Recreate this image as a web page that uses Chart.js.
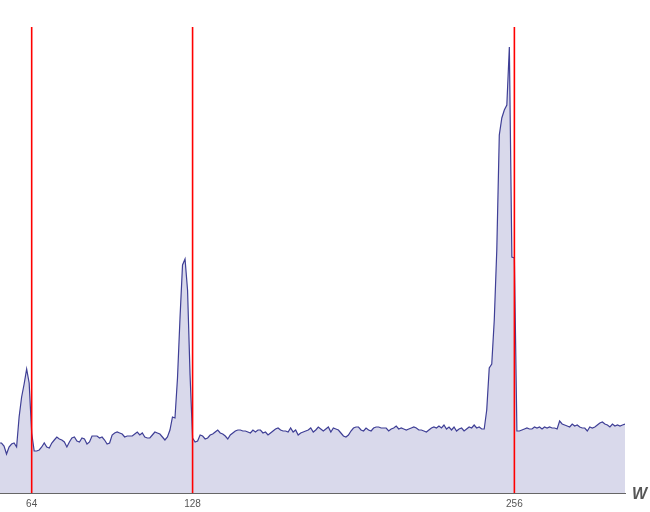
<!DOCTYPE html>
<html>
<head>
<meta charset="utf-8">
<script src="https://cdn.jsdelivr.net/npm/chart.js@4/dist/chart.umd.min.js"></script>
<style>
  html, body { margin: 0; padding: 0; background: #ffffff; }
  #wrap { width: 650px; height: 512px; position: relative; }
</style>
</head>
<body>
<div id="wrap"><canvas id="c" width="650" height="512"></canvas></div>
<script>
// W values (x) start and the measured series heights (one per integer W)
const wStart = 51;
const seriesValues = [
  50,50,47,39,46,49,50,46,76,96,
  109,124,110,60,42,42,43,46,50,46,
  45,50,53,56,54,53,51,46,51,55,
  56,52,51,55,54,49,51,57,57,57,
  55,56,53,49,50,58,60,61,60,59,
  56,57,57,57,59,61,58,60,56,55,
  55,58,61,60,59,56,53,56,63,76,
  75,115,175,228,234,203,118,55,51,52,
  58,57,54,55,58,59,61,63,60,59,
  57,54,58,60,62,63,63,62,62,61,
  60,63,61,63,63,60,61,58,60,62,
  64,65,63,62,62,61,65,61,63,58,
  60,61,62,63,65,61,63,66,64,62,
  64,66,61,65,64,63,60,57,56,58,
  62,65,66,66,63,62,65,63,62,65,
  66,66,65,65,65,62,64,65,67,64,
  65,64,63,64,65,66,65,63,63,62,
  61,63,65,66,65,67,65,68,64,66,
  63,66,62,64,65,62,64,66,65,68,
  65,66,64,64,83,125,129,173,243,358,
  375,383,388,446,236,235,62,62,63,64,
  65,64,64,66,65,66,64,66,65,66,
  65,65,64,72,69,68,67,66,69,67,
  68,66,65,65,62,66,65,66,68,70,
  71,69,68,66,69,67,68,67,68,69
];
const markerLines = [64, 128, 256];   // red vertical reference lines
const tickValues = [64, 128, 256];    // x-axis tick labels
const xMin = 51.4, xMax = 300;
const yMax = 466;
const axisTitle = 'W';

const areaData = seriesValues.map((v, i) => ({ x: wStart + i, y: v }));

const datasets = [{
  data: areaData,
  borderColor: '#3f3f96',
  backgroundColor: '#d9d9eb',
  borderWidth: 1.2,
  pointRadius: 0,
  tension: 0,
  fill: 'origin',
  order: 2
}];
markerLines.forEach(m => {
  datasets.push({
    data: [{ x: m, y: 0 }, { x: m, y: yMax }],
    borderColor: '#ff0000',
    borderWidth: 1.6,
    pointRadius: 0,
    fill: false,
    order: 1
  });
});

const titlePlugin = {
  id: 'wTitle',
  afterDraw(chart) {
    const ctx = chart.ctx;
    const xs = chart.scales.x;
    ctx.save();
    ctx.font = 'italic bold 16px "Liberation Sans", Arial, sans-serif';
    ctx.fillStyle = '#555555';
    ctx.textBaseline = 'middle';
    ctx.textAlign = 'left';
    ctx.fillText(axisTitle, xs.right + 7, xs.top + 2);
    ctx.restore();
  }
};

new Chart(document.getElementById('c'), {
  type: 'line',
  data: { datasets },
  options: {
    responsive: false,
    animation: false,
    layout: { padding: { left: 0, right: 25, top: 27, bottom: 0 } },
    plugins: { legend: { display: false }, tooltip: { enabled: false } },
    scales: {
      x: {
        type: 'linear',
        min: xMin,
        max: xMax,
        afterBuildTicks(scale) { scale.ticks = tickValues.map(v => ({ value: v })); },
        afterFit(scale) { scale.height = 19; },
        grid: { display: false, drawTicks: false },
        border: { display: true, color: '#666666', width: 1 },
        ticks: {
          padding: 5,
          color: '#555555',
          font: { family: '"Liberation Sans", Arial, sans-serif', size: 10 },
          maxRotation: 0,
          autoSkip: false
        }
      },
      y: {
        display: false,
        min: 0,
        max: yMax
      }
    }
  },
  plugins: [titlePlugin]
});
</script>
</body>
</html>
